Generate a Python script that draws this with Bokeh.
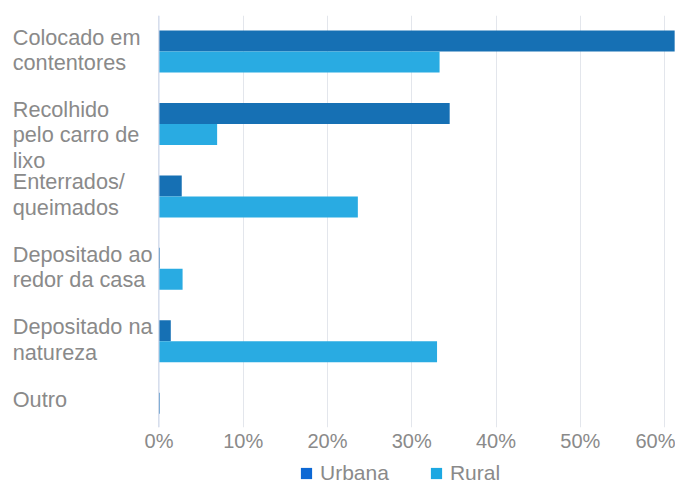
from bokeh.plotting import figure
from bokeh.layouts import column
from bokeh.models import (Range1d, Span, Legend, LegendItem, FixedTicker,
                          PrintfTickFormatter, ColumnDataSource)
from bokeh.core.properties import value
from bokeh.embed import file_html
from bokeh.resources import INLINE

categories = ["Colocado em\ncontentores", "Recolhido\npelo carro de\nlixo",
              "Enterrados/\nqueimados", "Depositado ao\nredor da casa",
              "Depositado na\nnatureza", "Outro"]
urbana = [61.2, 34.5, 2.7, 0.1, 1.4, 0.1]
rural = [33.3, 6.9, 23.6, 2.8, 33.0, 0.0]
x_ticks = [0, 10, 20, 30, 40, 50, 60]
series_names = ["Urbana", "Rural"]

FONT = "Liberation Sans"
TXT = "#8a8a8a"
C_URB = "#1670B4"
C_RUR = "#29ABE2"
C_URB_KEY = "#0D68D4"
C_RUR_KEY = "#1CA8E2"

X_START, X_END = -18.81, 61.3

idx = list(range(len(categories)))
src = ColumnDataSource(dict(
    y_u=[i - 0.145 for i in idx],
    y_r=[i + 0.145 for i in idx],
    urbana=urbana, rural=rural))
lab = ColumnDataSource(dict(x=[X_START + 1.45] * len(idx), y=idx, text=categories))

# main chart
p = figure(width=675, height=456,
           x_range=Range1d(X_START, X_END), y_range=Range1d(5.19, -0.497),
           output_backend="svg", toolbar_location=None,
           min_border_left=0, min_border_right=0,
           min_border_top=15, min_border_bottom=29)
p.outline_line_color = None
p.yaxis.visible = False
p.ygrid.visible = False

p.xaxis.ticker = FixedTicker(ticks=x_ticks)
p.xaxis.formatter = PrintfTickFormatter(format="%d%%")
p.xaxis.axis_line_color = None
p.xaxis.major_tick_line_color = None
p.xaxis.minor_tick_line_color = None
p.xaxis.major_tick_out = 0
p.xaxis.major_tick_in = 0
p.xaxis.major_label_standoff = 2
p.xaxis.major_label_text_font = FONT
p.xaxis.major_label_text_font_size = "20px"
p.xaxis.major_label_text_color = TXT
p.xgrid.grid_line_color = "#e3e6ec"
p.xgrid.grid_line_width = 1

p.hbar(y="y_u", right="urbana", left=0, height=0.29, source=src,
       fill_color=C_URB, line_color=None)
p.hbar(y="y_r", right="rural", left=0, height=0.29, source=src,
       fill_color=C_RUR, line_color=None)

p.add_layout(Span(location=0, dimension="height", line_color="#ccd6eb", line_width=1))

p.text(x="x", y="y", text="text", source=lab, y_offset=-27,
       text_baseline="top", text_align="left",
       text_font=value(FONT), text_font_size="21.7px", text_color=TXT,
       text_line_height=1.02)

# legend strip
lf = figure(width=675, height=30, x_range=Range1d(0, 1), y_range=Range1d(0, 1),
            output_backend="svg", toolbar_location=None,
            min_border_left=0, min_border_right=0,
            min_border_top=0, min_border_bottom=0)
lf.outline_line_color = None
lf.axis.visible = False
lf.grid.visible = False
k1 = lf.hbar(y="y_u", right="urbana", left=0, height=0.29, source=src,
             fill_color=C_URB_KEY, line_color=None, visible=False)
k2 = lf.hbar(y="y_r", right="rural", left=0, height=0.29, source=src,
             fill_color=C_RUR_KEY, line_color=None, visible=False)
legend = Legend(items=[LegendItem(label=series_names[0], renderers=[k1]),
                       LegendItem(label=series_names[1], renderers=[k2])],
                orientation="horizontal", location=(299, 1),
                glyph_width=14, glyph_height=14, label_standoff=7, spacing=40,
                padding=0, margin=0, border_line_color=None,
                background_fill_alpha=0,
                label_text_font=FONT, label_text_font_size="21px",
                label_text_color=TXT)
lf.add_layout(legend, "center")

open("out.html", "w").write(file_html(column(p, lf, spacing=0), INLINE))
